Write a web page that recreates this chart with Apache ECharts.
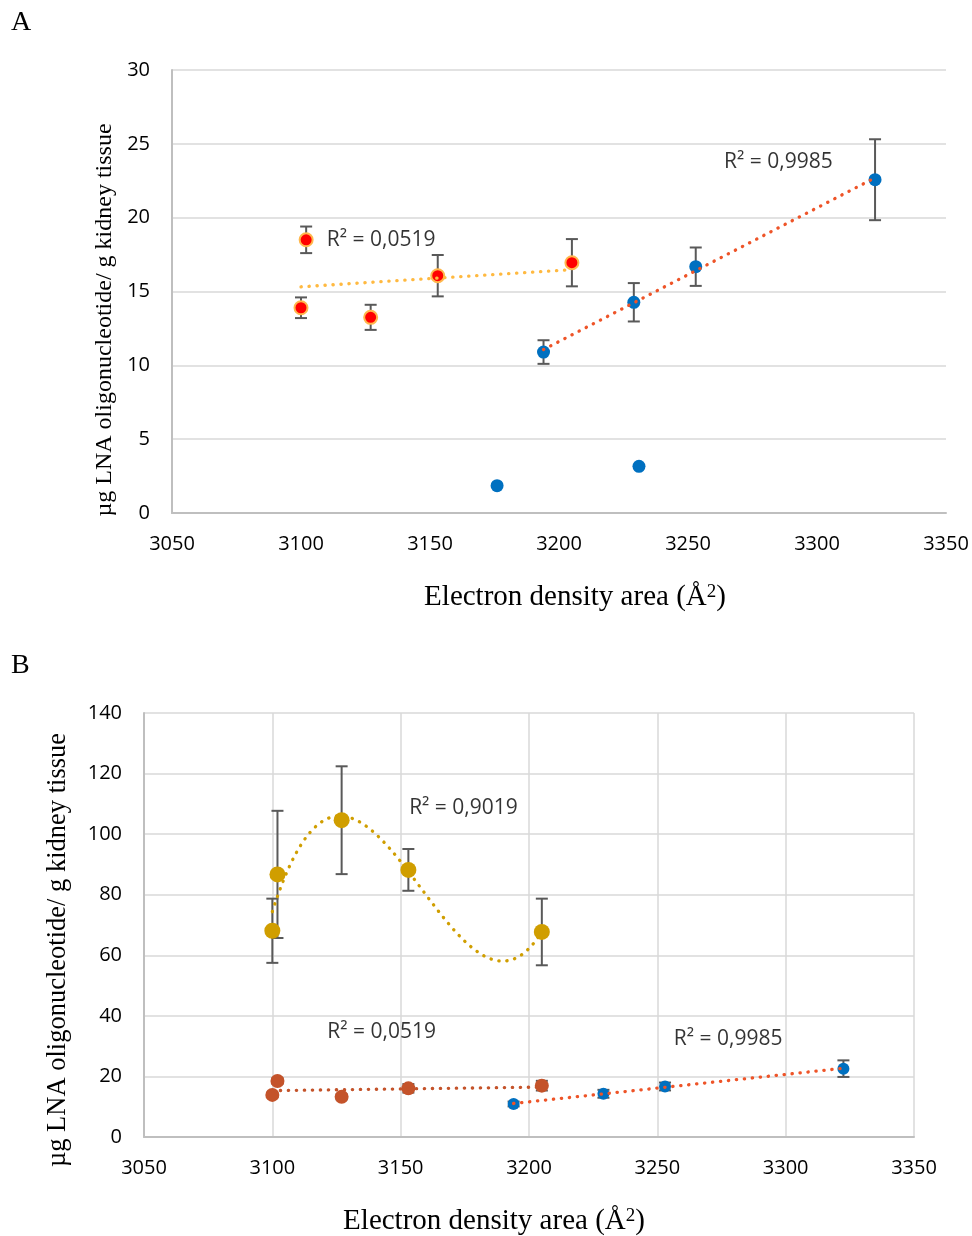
<!DOCTYPE html>
<html>
<head>
<meta charset="utf-8">
<script src="https://cdn.jsdelivr.net/npm/echarts@6/dist/echarts.min.js"></script>
<style>
html,body{margin:0;padding:0;background:#fff;}
#main{width:972px;height:1236px;}
</style>
</head>
<body>
<div id="main"></div>
<script>
// ---- Data ----
// Group 1 (red/orange in A, brown in B) — electron density area (Å²)
const xGroup1 = [3100, 3102, 3127, 3153, 3205];
// Panel A values (µg/g) and error
const yGroup1 = [13.9, 18.5, 13.25, 16.07, 16.95];
const eGroup1 = [0.7, 0.9, 0.85, 1.4, 1.6];
// Group 2 (blue)
const xGroup2 = [3194, 3229, 3253, 3322.5];
const yGroup2 = [10.9, 14.27, 16.68, 22.57];
const eGroup2 = [0.8, 1.3, 1.3, 2.74];
// Blue points without error bars (panel A only)
const xBlueExtra = [3176, 3231];
const yBlueExtra = [1.85, 3.16];
// Panel B gold series (same x as group 1)
const yGold = [68.1, 86.7, 104.6, 88.2, 67.7];
const eGold = [10.6, 21, 17.8, 6.9, 11];
// Axis ticks
const xTicks = {min: 3050, max: 3350, interval: 50};
const yTicksA = {min: 0, max: 30, interval: 5};
const yTicksB = {min: 0, max: 140, interval: 20};
// R² labels
const r2Labels = {g1: 'R² = 0,0519', g2: 'R² = 0,9985', gold: 'R² = 0,9019'};

// ---- helpers ----
function zip(xs, ys, es) { return xs.map((x, i) => es ? [x, ys[i], es[i]] : [x, ys[i]]); }
function linFit(xs, ys) {
  const n = xs.length;
  const mx = xs.reduce((a, b) => a + b, 0) / n, my = ys.reduce((a, b) => a + b, 0) / n;
  let sxy = 0, sxx = 0;
  for (let i = 0; i < n; i++) { sxy += (xs[i] - mx) * (ys[i] - my); sxx += (xs[i] - mx) ** 2; }
  const b = sxy / sxx, a = my - b * mx;
  const x0 = Math.min(...xs), x1 = Math.max(...xs);
  return [[x0, a + b * x0], [x1, a + b * x1]];
}
function polyFit(xs, ys, deg, steps) {
  const c = 3150, s = 50;
  const ts = xs.map(x => (x - c) / s);
  const m = deg + 1;
  const A = [], B = [];
  for (let r = 0; r < m; r++) {
    A.push([]);
    for (let k = 0; k < m; k++) A[r].push(ts.reduce((acc, t) => acc + Math.pow(t, r + k), 0));
    B.push(ts.reduce((acc, t, i) => acc + Math.pow(t, r) * ys[i], 0));
  }
  for (let i = 0; i < m; i++) {
    let p = i;
    for (let r = i + 1; r < m; r++) if (Math.abs(A[r][i]) > Math.abs(A[p][i])) p = r;
    [A[i], A[p]] = [A[p], A[i]]; [B[i], B[p]] = [B[p], B[i]];
    for (let r = i + 1; r < m; r++) {
      const f = A[r][i] / A[i][i];
      for (let k = i; k < m; k++) A[r][k] -= f * A[i][k];
      B[r] -= f * B[i];
    }
  }
  const coef = new Array(m).fill(0);
  for (let i = m - 1; i >= 0; i--) {
    let sum = B[i];
    for (let k = i + 1; k < m; k++) sum -= A[i][k] * coef[k];
    coef[i] = sum / A[i][i];
  }
  const x0 = Math.min(...xs), x1 = Math.max(...xs);
  const out = [];
  for (let j = 0; j <= steps; j++) {
    const x = x0 + (x1 - x0) * j / steps, t = (x - c) / s;
    let y = 0;
    for (let k = 0; k < m; k++) y += coef[k] * Math.pow(t, k);
    out.push([x, y]);
  }
  return out;
}

const errColor = '#595959';
function errorBars(xi, yi, data, z) {
  return {
    type: 'custom', xAxisIndex: xi, yAxisIndex: yi, z: z || 2, data: data, silent: true,
    renderItem: function (params, api) {
      const x = api.value(0), y = api.value(1), e = api.value(2);
      const top = api.coord([x, y + e]), bot = api.coord([x, y - e]);
      const w = 6;
      const st = {stroke: errColor, lineWidth: 2};
      return {type: 'group', children: [
        {type: 'line', shape: {x1: top[0], y1: top[1], x2: bot[0], y2: bot[1]}, style: st},
        {type: 'line', shape: {x1: top[0] - w, y1: top[1], x2: top[0] + w, y2: top[1]}, style: st},
        {type: 'line', shape: {x1: bot[0] - w, y1: bot[1], x2: bot[0] + w, y2: bot[1]}, style: st}
      ]};
    }
  };
}
function dots(xi, yi, data, color, size, border) {
  return {
    type: 'scatter', xAxisIndex: xi, yAxisIndex: yi, z: 3, data: data, symbolSize: size,
    itemStyle: Object.assign({color: color, opacity: 1}, border ? {borderColor: border, borderWidth: 2} : {})
  };
}
function trend(xi, yi, data, color) {
  return {
    type: 'line', xAxisIndex: xi, yAxisIndex: yi, z: 4, data: data, showSymbol: false, symbol: 'none',
    silent: true,
    lineStyle: {color: color, width: 3.3, type: [0.3, 7.7], cap: 'round'}
  };
}
const sansFont = '"Open Sans"';
function note(xi, yi, pt, text) {
  return {
    type: 'scatter', xAxisIndex: xi, yAxisIndex: yi, z: 5, symbolSize: 0, silent: true,
    data: [pt],
    label: {show: true, position: 'right', distance: 0, formatter: text, color: '#000',
      fontFamily: sansFont, fontSize: 21, align: 'left', verticalAlign: 'middle'}
  };
}

const tickFont = {fontFamily: sansFont, fontSize: 20, color: '#000', formatter: v => String(v)};
const gridLine = {show: true, lineStyle: {color: '#D9D9D9', width: 1.5}};
const axLine = {show: true, lineStyle: {color: '#BFBFBF', width: 2}};

const serif = '"Liberation Serif", "Times New Roman", serif';
function xTitle(cx, cy) {
  return {type: 'text', x: cx, y: cy, style: {
    text: 'Electron density area (Å{s|2})', fontFamily: serif, fontSize: 29, fill: '#000',
    align: 'center', verticalAlign: 'middle',
    rich: {s: {fontFamily: serif, fontSize: 19, verticalAlign: 'top', fill: '#000', padding: [0, 0, 10, 0]}}
  }};
}

const option = {
  animation: false,
  backgroundColor: '#fff',
  grid: [
    {left: 172, top: 70, right: 26, bottom: 723},
    {left: 144, top: 713, right: 58, bottom: 99}
  ],
  xAxis: [
    Object.assign({type: 'value', gridIndex: 0, axisLine: axLine, axisTick: {show: false},
      splitLine: {show: false}, axisLabel: Object.assign({margin: 21}, tickFont)}, xTicks),
    Object.assign({type: 'value', gridIndex: 1, axisLine: axLine, axisTick: {show: false},
      splitLine: gridLine, axisLabel: Object.assign({margin: 21}, tickFont)}, xTicks)
  ],
  yAxis: [
    Object.assign({type: 'value', gridIndex: 0, axisLine: axLine, axisTick: {show: false},
      splitLine: gridLine, axisLabel: Object.assign({margin: 22}, tickFont)}, yTicksA),
    Object.assign({type: 'value', gridIndex: 1, axisLine: axLine, axisTick: {show: false},
      splitLine: gridLine, axisLabel: Object.assign({margin: 22}, tickFont)}, yTicksB)
  ],
  graphic: [
    {type: 'text', left: 11, top: 9, style: {text: 'A', font: '28px ' + serif, fill: '#000'}},
    {type: 'text', left: 11, top: 652, style: {text: 'B', font: '28px ' + serif, fill: '#000'}},
    xTitle(575, 597),
    xTitle(494, 1221),
    {type: 'text', x: 105, y: 320, rotation: Math.PI / 2, style: {text: 'µg LNA oligonucleotide/ g kidney tissue',
      font: '24px ' + serif, fill: '#000', align: 'center', verticalAlign: 'middle'}},
    {type: 'text', x: 58, y: 950, rotation: Math.PI / 2, style: {text: 'µg LNA oligonucleotide/ g kidney tissue',
      font: '26.5px ' + serif, fill: '#000', align: 'center', verticalAlign: 'middle'}}
  ],
  series: [
    // Panel A
    errorBars(0, 0, zip(xGroup1, yGroup1, eGroup1)),
    errorBars(0, 0, zip(xGroup2, yGroup2, eGroup2)),
    dots(0, 0, zip(xGroup1, yGroup1), '#FF0000', 13, '#FFB84D'),
    dots(0, 0, zip(xGroup2, yGroup2), '#0070C0', 13),
    dots(0, 0, zip(xBlueExtra, yBlueExtra), '#0070C0', 13),
    trend(0, 0, linFit(xGroup1, yGroup1), '#FFB940'),
    trend(0, 0, linFit(xGroup2, yGroup2), '#EE5428'),
    note(0, 0, [3110, 18.48], r2Labels.g1),
    note(0, 0, [3264, 23.78], r2Labels.g2),
    // Panel B
    errorBars(1, 1, zip(xGroup1, yGold, eGold)),
    errorBars(1, 1, zip(xGroup1, yGroup1, eGroup1)),
    errorBars(1, 1, zip(xGroup2, yGroup2, eGroup2)),
    dots(1, 1, zip(xGroup1, yGold), '#D09E00', 16),
    dots(1, 1, zip(xGroup1, yGroup1), '#C4532A', 14),
    dots(1, 1, zip(xGroup2, yGroup2), '#0070C0', 12),
    trend(1, 1, polyFit(xGroup1, yGold, 3, 80), '#D09E00'),
    trend(1, 1, linFit(xGroup1, yGroup1), '#C4532A'),
    trend(1, 1, linFit(xGroup2, yGroup2), '#EE5428'),
    note(1, 1, [3153.3, 108.7], r2Labels.gold),
    note(1, 1, [3121.4, 34.5], r2Labels.g1),
    note(1, 1, [3256.4, 32.3], r2Labels.g2)
  ]
};

const chart = echarts.init(document.getElementById('main'));
chart.setOption(option);
</script>
</body>
</html>
